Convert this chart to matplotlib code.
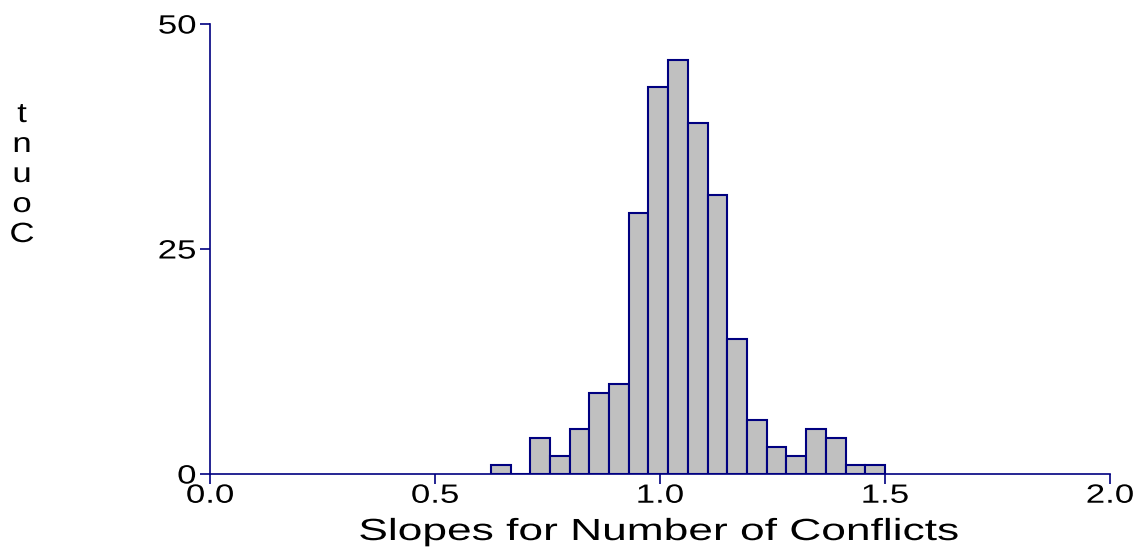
import numpy as np
import matplotlib.pyplot as plt
import matplotlib.patheffects as pe
from matplotlib.transforms import Affine2D

plt.rcParams['font.family'] = ['Liberation Sans', 'DejaVu Sans']

# Histogram of slopes: bin edges and counts
bin_lo = 0.624
bin_hi = 1.5
n_bins = 20
counts = [1, 0, 4, 2, 5, 9, 10, 29, 43, 46, 39, 31, 15, 6, 3, 2, 5, 4, 1, 1]
x_ticks = [0.0, 0.5, 1.0, 1.5, 2.0]
y_ticks = [0, 25, 50]
navy = '#000080'


class Widen(pe.AbstractPathEffect):
    """Stretch glyphs horizontally around an anchor (0=left, 0.5=center, 1=right)."""

    def __init__(self, sx, anchor=0.5):
        super().__init__()
        self.sx = sx
        self.anchor = anchor

    def draw_path(self, renderer, gc, tpath, affine, rgbFace=None):
        ext = tpath.get_extents()
        x0 = ext.x0 + self.anchor * ext.width
        stretch = Affine2D().translate(-x0, 0).scale(self.sx, 1).translate(x0, 0)
        renderer.draw_path(gc, tpath, stretch + affine, rgbFace)


edges = np.linspace(bin_lo, bin_hi, n_bins + 1)

fig = plt.figure(figsize=(11.41, 5.5), dpi=100)
ax = fig.add_axes([210 / 1141, 1 - 474 / 550, 900 / 1141, 450 / 550])

ax.bar(edges[:-1], counts, width=np.diff(edges), align='edge',
       color='#c0c0c0', edgecolor=navy, linewidth=1.5)

ax.set_xlim(0, 2)
ax.set_ylim(0, 50)
ax.set_xticks(x_ticks)
ax.set_xticklabels([f"{t:.1f}" for t in x_ticks])
ax.set_yticks(y_ticks)
ax.tick_params(colors=navy, labelcolor='black', labelsize=19, length=7, width=1.2)
ax.tick_params(axis='x', pad=0)
ax.tick_params(axis='y', pad=3)

for lbl in ax.get_xticklabels():
    lbl.set_path_effects([Widen(1.32, 0.5)])
for lbl in ax.get_yticklabels():
    lbl.set_path_effects([Widen(1.32, 1.0)])

for s in ['top', 'right']:
    ax.spines[s].set_visible(False)
for s in ['left', 'bottom']:
    ax.spines[s].set_color(navy)
    ax.spines[s].set_linewidth(1.2)

xl = fig.text(658 / 1141, 1 - 540 / 550, "Slopes for Number of Conflicts",
              fontsize=22, ha='center', va='baseline')
xl.set_path_effects([Widen(1.45, 0.5)])

# vertical stacked axis title
yl = fig.text(22 / 1141, 1 - 175 / 550, "\n".join("Count"[::-1]), fontsize=20,
              ha='center', va='center', linespacing=1.2)
yl.set_path_effects([Widen(1.25, 0.5)])

fig.savefig("out.png", dpi=100)
